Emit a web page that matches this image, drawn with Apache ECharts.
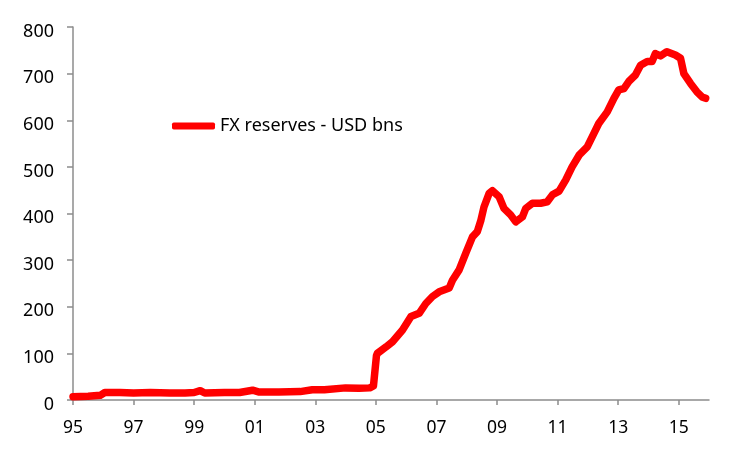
<!DOCTYPE html>
<html>
<head>
<meta charset="utf-8">
<script src="https://cdn.jsdelivr.net/npm/echarts@6/dist/echarts.min.js"></script>
<style>
  html, body { margin: 0; padding: 0; background: #fff; }
  #chart { width: 750px; height: 449px; }
</style>
</head>
<body>
<div id="chart"></div>
<script>
// years (decimal) and FX reserves, USD bn
var years = [
  1995.0, 1995.5, 1995.9, 1996.05, 1996.55, 1997.0, 1997.55, 1998.2, 1998.7, 1999.0,
  1999.2, 1999.35, 2000.0, 2000.5, 2000.93, 2001.15, 2001.8, 2002.5, 2002.9, 2003.3,
  2004.0, 2004.45, 2004.8, 2004.92, 2005.02, 2005.05, 2005.34, 2005.55, 2005.88, 2006.16,
  2006.43, 2006.65, 2006.87, 2007.09, 2007.42, 2007.53, 2007.75, 2007.97, 2008.19, 2008.35,
  2008.47, 2008.57, 2008.74, 2008.85, 2009.07, 2009.23, 2009.45, 2009.62, 2009.84, 2009.95,
  2010.17, 2010.44, 2010.66, 2010.83, 2011.05, 2011.27, 2011.48, 2011.71, 2011.98, 2012.2,
  2012.36, 2012.64, 2012.86, 2013.02, 2013.19, 2013.35, 2013.57, 2013.74, 2013.96, 2014.12,
  2014.23, 2014.4, 2014.61, 2014.89, 2015.06, 2015.17, 2015.39, 2015.6, 2015.77, 2015.89
];
var reserves = [
  7, 8, 10, 16, 16, 15, 16, 15, 15, 16,
  20, 15, 16, 16, 21, 17, 17, 18, 22, 22,
  26, 25, 26, 30, 95, 100, 114, 125, 150, 179,
  186, 207, 222, 232, 240, 257, 279, 315, 350, 361,
  386, 414, 443, 449, 436, 411, 397, 382, 393, 411,
  422, 422, 425, 440, 448, 472, 500, 525, 543, 572,
  593, 618, 647, 665, 668, 683, 697, 718, 726, 726,
  743, 738, 747, 740, 733, 700, 679, 661, 650, 647
];
var startYear = 1995;
var tickYears = [0, 2, 4, 6, 8, 10, 12, 14, 16, 18, 20]; // offsets from 1995
var seriesName = 'FX reserves - USD bns';

var chart = echarts.init(document.getElementById('chart'));

var points = [];
for (var i = 0; i < years.length; i++) {
  points.push([years[i] - startYear, reserves[i]]);
}

var axisGrey = '#8c8c8c';
var font = 'Noto Sans';

chart.setOption({
  backgroundColor: '#fff',
  animation: false,
  grid: { left: 73, right: 41, top: 27, bottom: 49 },
  legend: {
    left: 167,
    top: 112,
    itemWidth: 43,
    itemHeight: 7,
    itemGap: 5,
    icon: 'roundRect',
    textStyle: { fontFamily: font, fontSize: 18, color: '#000' },
    data: [seriesName]
  },
  xAxis: {
    type: 'value',
    min: 0,
    max: 21,
    axisLine: { show: true, lineStyle: { color: axisGrey, width: 1.5 } },
    axisTick: { show: true, length: 5, lineStyle: { color: axisGrey, width: 1.5 }, customValues: tickYears },
    axisLabel: {
      customValues: tickYears,
      margin: 19,
      fontFamily: font,
      fontSize: 17.5,
      color: '#000',
      formatter: function (v) {
        var y = (startYear + v) % 100;
        return (y < 10 ? '0' : '') + y;
      }
    },
    splitLine: { show: false }
  },
  yAxis: {
    type: 'value',
    min: 0,
    max: 800,
    interval: 100,
    axisLine: { show: true, lineStyle: { color: axisGrey, width: 1.5 } },
    axisTick: { show: true, length: 6, lineStyle: { color: axisGrey, width: 1.5 } },
    axisLabel: {
      margin: 19,
      verticalAlign: 'top',
      lineHeight: 9,
      fontFamily: font,
      fontSize: 18,
      color: '#000'
    },
    splitLine: { show: false }
  },
  series: [{
    name: seriesName,
    type: 'line',
    data: points,
    showSymbol: false,
    symbol: 'none',
    color: '#ff0000',
    lineStyle: { color: '#ff0000', width: 7.5, join: 'round', cap: 'round' }
  }]
});
</script>
</body>
</html>
